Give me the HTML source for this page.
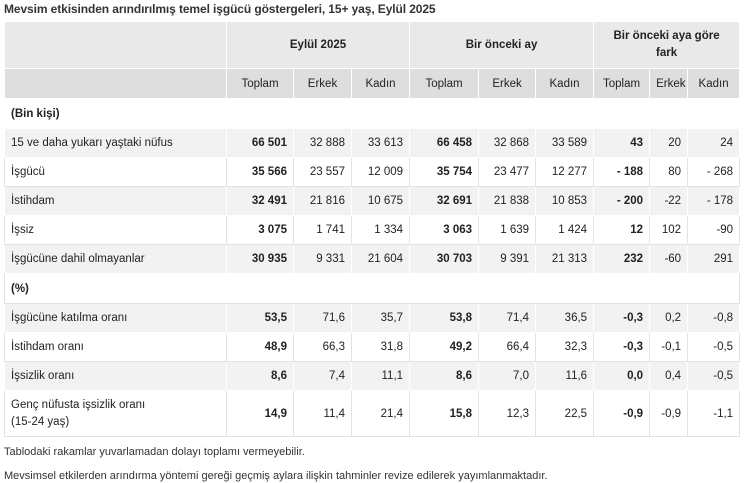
<!DOCTYPE html>
<html><head><meta charset="utf-8"><style>
body{margin:0;width:750px;height:483px;background:#fff;font-family:"Liberation Sans","DejaVu Sans",sans-serif;font-size:11.5px;color:#222;position:relative;overflow:hidden}
.t{position:absolute;left:4px;top:2px;font-weight:bold;font-size:12px;color:#333;letter-spacing:-0.1px}
table{position:absolute;left:4px;top:21px;border-collapse:collapse;table-layout:fixed;width:735px}
td{padding:0 6px;height:28px;border:1px solid #e2e2e2;text-align:right;white-space:nowrap;overflow:hidden}
td.l{text-align:left}
tr.h1 td{background:#e9e9e9;height:46px;text-align:center;font-weight:bold;border-color:#fff;white-space:normal;line-height:17px}
tr.h2 td{background:#dedede;height:29px;text-align:center;border-color:#fff}
tr.g td{background:#f2f2f2;border-color:#fff}
tr.s td{height:29px;font-weight:bold}
b{font-weight:bold}
.f{position:absolute;left:4px;font-size:11px;color:#333}
</style></head><body>
<div class="t">Mevsim etkisinden arındırılmış temel işgücü göstergeleri, 15+ yaş, Eylül 2025</div>
<table>
<colgroup><col style="width:222px"><col style="width:67px"><col style="width:58px"><col style="width:58px"><col style="width:69px"><col style="width:57px"><col style="width:58px"><col style="width:56px"><col style="width:38px"><col style="width:52px"></colgroup>
<tr class="h1"><td></td><td colspan="3">Eylül 2025</td><td colspan="3">Bir önceki ay</td><td colspan="3">Bir önceki aya göre<br>fark</td></tr>
<tr class="h2"><td></td><td>Toplam</td><td>Erkek</td><td>Kadın</td><td>Toplam</td><td>Erkek</td><td>Kadın</td><td>Toplam</td><td>Erkek</td><td>Kadın</td></tr>
<tr class="s"><td class="l" colspan="10" style="border-color:#fff">(Bin kişi)</td></tr>
<tr class="g"><td class="l">15 ve daha yukarı yaştaki nüfus</td><td><b>66 501</b></td><td>32 888</td><td>33 613</td><td><b>66 458</b></td><td>32 868</td><td>33 589</td><td><b>43</b></td><td>20</td><td>24</td></tr>
<tr><td class="l">İşgücü</td><td><b>35 566</b></td><td>23 557</td><td>12 009</td><td><b>35 754</b></td><td>23 477</td><td>12 277</td><td><b>- 188</b></td><td>80</td><td>- 268</td></tr>
<tr class="g"><td class="l">İstihdam</td><td><b>32 491</b></td><td>21 816</td><td>10 675</td><td><b>32 691</b></td><td>21 838</td><td>10 853</td><td><b>- 200</b></td><td>-22</td><td>- 178</td></tr>
<tr><td class="l">İşsiz</td><td><b>3 075</b></td><td>1 741</td><td>1 334</td><td><b>3 063</b></td><td>1 639</td><td>1 424</td><td><b>12</b></td><td>102</td><td>-90</td></tr>
<tr class="g"><td class="l">İşgücüne dahil olmayanlar</td><td><b>30 935</b></td><td>9 331</td><td>21 604</td><td><b>30 703</b></td><td>9 391</td><td>21 313</td><td><b>232</b></td><td>-60</td><td>291</td></tr>
<tr class="s"><td class="l" colspan="10">(%)</td></tr>
<tr class="g"><td class="l">İşgücüne katılma oranı</td><td><b>53,5</b></td><td>71,6</td><td>35,7</td><td><b>53,8</b></td><td>71,4</td><td>36,5</td><td><b>-0,3</b></td><td>0,2</td><td>-0,8</td></tr>
<tr><td class="l">İstihdam oranı</td><td><b>48,9</b></td><td>66,3</td><td>31,8</td><td><b>49,2</b></td><td>66,4</td><td>32,3</td><td><b>-0,3</b></td><td>-0,1</td><td>-0,5</td></tr>
<tr class="g"><td class="l">İşsizlik oranı</td><td><b>8,6</b></td><td>7,4</td><td>11,1</td><td><b>8,6</b></td><td>7,0</td><td>11,6</td><td><b>0,0</b></td><td>0,4</td><td>-0,5</td></tr>
<tr><td class="l" style="height:45px;white-space:normal;line-height:17px">Genç nüfusta işsizlik oranı<br>(15-24 yaş)</td><td><b>14,9</b></td><td>11,4</td><td>21,4</td><td><b>15,8</b></td><td>12,3</td><td>22,5</td><td><b>-0,9</b></td><td>-0,9</td><td>-1,1</td></tr>
</table>
<div class="f" style="top:446px">Tablodaki rakamlar yuvarlamadan dolayı toplamı vermeyebilir.</div>
<div class="f" style="top:470px">Mevsimsel etkilerden arındırma yöntemi gereği geçmiş aylara ilişkin tahminler revize edilerek yayımlanmaktadır.</div>
</body></html>
